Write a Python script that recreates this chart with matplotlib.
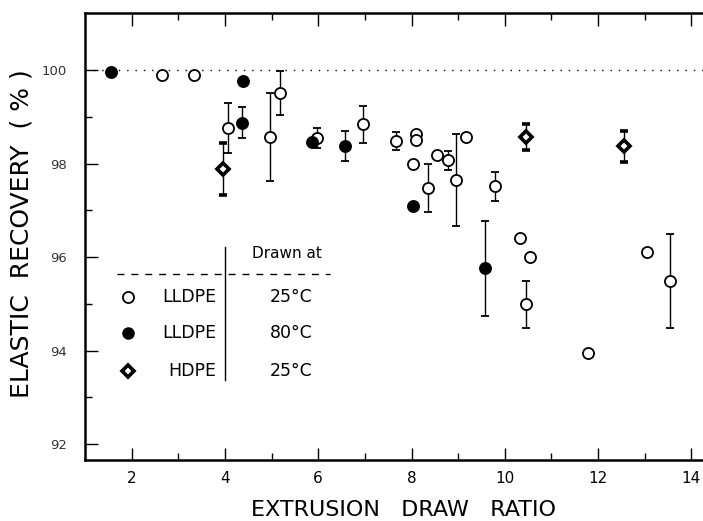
import matplotlib
matplotlib.use('Agg')
import matplotlib.pyplot as plt

# LLDPE drawn at 25 C (open circles)
x_open = [2.66, 3.34, 4.06, 4.96, 5.17, 5.98, 6.96, 7.66, 8.10, 8.10, 8.04, 8.36, 8.55,
          8.79, 8.96, 9.17, 9.79, 10.32, 10.55, 10.45, 11.79, 13.04, 13.55]
y_open = [99.90, 99.90, 98.76, 98.57, 99.51, 98.55, 98.84, 98.48, 98.63, 98.50, 97.99, 97.48, 98.18,
          98.07, 97.65, 98.57, 97.52, 96.41, 96.00, 94.99, 93.95, 96.10, 95.49]
e_open = [0, 0, 0.53, 0.94, 0.48, 0.21, 0.39, 0.19, 0, 0, 0, 0.51, 0,
          0.20, 0.98, 0, 0.31, 0, 0, 0.50, 0, 0, 1.00]

# LLDPE drawn at 80 C (filled circles)
x_fill = [1.55, 4.38, 4.36, 5.87, 6.57, 8.04, 9.57]
y_fill = [99.96, 99.76, 98.87, 98.46, 98.37, 97.09, 95.76]
e_fill = [0, 0, 0.33, 0, 0.32, 0, 1.02]

# HDPE drawn at 25 C (diamonds)
x_hdpe = [3.96, 10.45, 12.55]
y_hdpe = [97.88, 98.57, 98.37]
e_hdpe = [0.56, 0.27, 0.33]

legend_names = ['LLDPE', 'LLDPE', 'HDPE']
legend_temps = ['25°C', '80°C', '25°C']

fig = plt.figure(figsize=(7.03, 5.21), dpi=100)
ax = fig.add_axes([0.121, 0.117, 0.879, 0.858])

ax.axhline(100, color='black', lw=1, ls=(0, (1, 5)), zorder=1)

ax.errorbar(x_open, y_open, yerr=e_open, fmt='o', ms=8, mfc='white', mec='black', mew=1.3,
            ecolor='black', elinewidth=1, capsize=3, capthick=1, zorder=3)
ax.errorbar(x_fill, y_fill, yerr=e_fill, fmt='o', ms=8, mfc='black', mec='black', mew=1.3,
            ecolor='black', elinewidth=1, capsize=3, capthick=1, zorder=3)
ax.errorbar(x_hdpe, y_hdpe, yerr=e_hdpe, fmt='D', ms=6.5, mfc='white', mec='black', mew=2.6,
            ecolor='black', elinewidth=1, capsize=3, capthick=1, zorder=3)

ax.set_xlim(1.0, 14.25)
ax.set_ylim(91.66, 101.22)
ax.set_xticks([2, 4, 6, 8, 10, 12, 14])
ax.set_xticks([3, 5, 7, 9, 11, 13], minor=True)
ax.set_yticks([92, 94, 96, 98, 100])
ax.set_yticks([93, 95, 97, 99], minor=True)

ax.tick_params(axis='both', which='both', direction='in', top=True, right=False)
ax.tick_params(axis='both', which='major', length=9, width=1)
ax.tick_params(axis='both', which='minor', length=5, width=1)
ax.tick_params(axis='x', labelsize=11, pad=8)
ax.tick_params(axis='y', labelsize=9.5, pad=13, labelcolor='#333333')

for s in ['left', 'bottom', 'top']:
    ax.spines[s].set_linewidth(1.8)
ax.spines['right'].set_visible(False)

fig.text(0.574, 0.021, 'EXTRUSION   DRAW   RATIO', fontsize=16, ha='center', va='center')
fig.text(0.031, 0.551, 'ELASTIC  RECOVERY  ( % )', fontsize=18, rotation=90,
         ha='center', va='center')

# legend table drawn inside the axes
tr = ax.transAxes
ax.plot([0.2265, 0.2265], [0.179, 0.4765], color='black', lw=1, transform=tr)
ax.plot([0.052, 0.396], [0.416, 0.416], color='black', lw=1, ls=(0, (5, 5)), transform=tr)
ax.text(0.327, 0.463, 'Drawn at', fontsize=11, ha='center', va='center', transform=tr)
row_y = [0.365, 0.284, 0.199]
ax.plot(0.070, row_y[0], 'o', ms=8, mfc='white', mec='black', mew=1.3, transform=tr)
ax.plot(0.070, row_y[1], 'o', ms=8, mfc='black', mec='black', transform=tr)
ax.plot(0.070, row_y[2], 'D', ms=6.5, mfc='white', mec='black', mew=2.6, transform=tr)
for yy, name, temp in zip(row_y, legend_names, legend_temps):
    ax.text(0.212, yy, name, fontsize=12.5, ha='right', va='center', transform=tr)
    ax.text(0.333, yy, temp, fontsize=12.5, ha='center', va='center', transform=tr)

fig.savefig('out.png', dpi=100)
